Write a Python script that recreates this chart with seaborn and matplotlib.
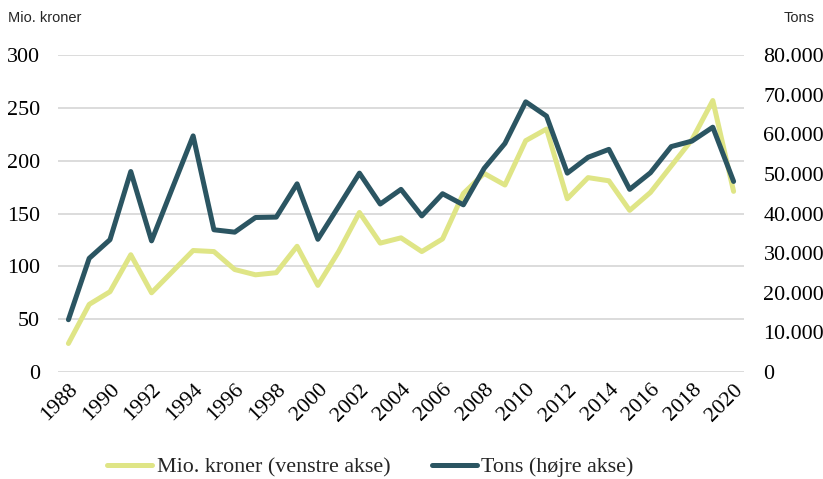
import pandas as pd
import matplotlib.pyplot as plt
import seaborn as sns
from matplotlib.ticker import FuncFormatter

# Data
years = list(range(1988, 2021))
kroner = [27, 64, 76, 111, 75, 95, 115, 114, 97, 92, 94, 119, 82, 114, 151, 122,
          127, 114, 126, 169, 188, 177, 219, 230, 164, 184, 181, 153, 170, 195,
          220, 257, 171]
tons = [13200, 28700, 33400, 50600, 33100, 46400, 59600, 35900, 35300, 39000,
        39100, 47500, 33500, 41800, 50200, 42400, 46100, 39400, 45000, 42200,
        51400, 57700, 68200, 64600, 50200, 54200, 56200, 46100, 50300, 56900,
        58300, 61800, 48100]

df = pd.DataFrame({'year': years, 'kroner': kroner, 'tons': tons})

yellow = '#dfe586'
dark = '#2b5562'

sns.set_style('white')
plt.rcParams['font.family'] = ['Liberation Serif', 'DejaVu Serif']

fig = plt.figure(figsize=(8.23, 4.79), dpi=100)
ax = fig.add_axes([0.0705, 0.2234, 0.8335, 0.6616])
ax2 = ax.twinx()

sns.lineplot(data=df, x='year', y='kroner', ax=ax, color=yellow, linewidth=3.6,
             label='Mio. kroner (venstre akse)', legend=False)
sns.lineplot(data=df, x='year', y='tons', ax=ax2, color=dark, linewidth=3.6,
             label='Tons (højre akse)', legend=False)

ax.set_xlim(1987.5, 2020.5)
ax.set_ylim(0, 300)
ax2.set_ylim(0, 80000)
ax.set_yticks(range(0, 301, 50))
ax2.set_yticks(range(0, 80001, 10000))
ax2.yaxis.set_major_formatter(FuncFormatter(lambda v, p: f'{int(v):,}'.replace(',', '.')))
ax.set_xticks(range(1988, 2021, 2))

ax.grid(axis='y', color='#d9d9d9', linewidth=1.3)
ax.set_axisbelow(True)
ax2.grid(False)
for a in (ax, ax2):
    for s in a.spines.values():
        s.set_visible(False)
    a.set_xlabel('')
    a.set_ylabel('')
    a.tick_params(length=0, labelsize=15.8, colors='black')

ax.tick_params(axis='y', pad=13)
ax2.tick_params(axis='y', pad=14)
plt.setp(ax.get_xticklabels(), rotation=45, ha='right', rotation_mode='anchor')
ax.tick_params(axis='x', pad=6)

fig.text(0.01, 0.962, 'Mio. kroner', fontsize=10.5, family='Liberation Sans', va='center')
fig.text(0.99, 0.962, 'Tons', fontsize=10.5, family='Liberation Sans', va='center', ha='right')

h1, l1 = ax.get_legend_handles_labels()
h2, l2 = ax2.get_legend_handles_labels()
fig.legend(h1 + h2, l1 + l2, loc='center', bbox_to_anchor=(0.45, 0.025), ncol=2,
           frameon=False, fontsize=15.8, handlelength=2.05, handletextpad=0.2,
           columnspacing=1.9)

fig.savefig('out.png', dpi=100)
